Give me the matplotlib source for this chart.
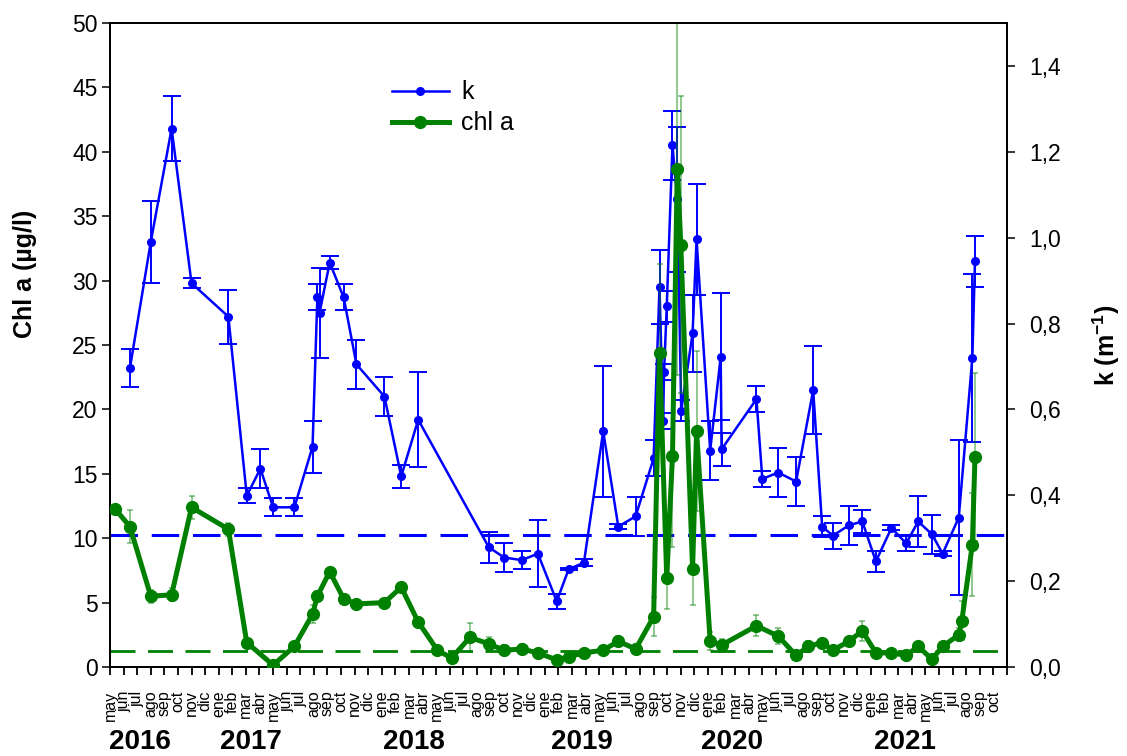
import matplotlib
matplotlib.use("Agg")
import matplotlib.pyplot as plt
from matplotlib.lines import Line2D
from matplotlib.ticker import FuncFormatter
import numpy as np
import pandas as pd

plt.rcParams['font.family'] = ['Liberation Sans', 'DejaVu Sans']
plt.rcParams['mathtext.fontset'] = 'custom'
plt.rcParams['mathtext.rm'] = 'Liberation Sans'
plt.rcParams['mathtext.bf'] = 'Liberation Sans:bold'

# chlorophyll a (ug/l) with standard deviation
chl_dates = [
    "2016-05-12", "2016-06-15", "2016-08-01", "2016-09-17", "2016-11-01",
    "2017-01-23", "2017-03-03", "2017-05-01", "2017-06-18", "2017-07-29",
    "2017-08-09", "2017-09-06", "2017-10-07", "2017-11-05", "2018-01-07",
    "2018-02-13", "2018-03-22", "2018-05-04", "2018-06-05", "2018-07-16",
    "2018-08-28", "2018-10-01", "2018-11-10", "2018-12-16", "2019-01-28",
    "2019-02-22", "2019-03-28", "2019-05-10", "2019-06-13", "2019-07-22",
    "2019-09-01", "2019-09-14", "2019-09-30", "2019-10-13", "2019-10-24",
    "2019-11-01", "2019-11-27", "2019-12-06", "2020-01-06", "2020-02-01",
    "2020-04-18", "2020-06-06", "2020-07-16", "2020-08-13", "2020-09-13",
    "2020-10-07", "2020-11-12", "2020-12-12", "2021-01-12", "2021-02-15",
    "2021-03-19", "2021-04-15", "2021-05-16", "2021-06-09", "2021-07-15",
    "2021-07-22", "2021-08-15", "2021-08-21",
]
chl = [
    12.3, 10.9, 5.5, 5.6, 12.4,
    10.7, 1.9, 0.15, 1.6, 4.1,
    5.5, 7.4, 5.3, 4.9, 5.0,
    6.2, 3.5, 1.3, 0.7, 2.3,
    1.8, 1.3, 1.4, 1.1, 0.55,
    0.8, 1.1, 1.3, 2.0, 1.4,
    3.9, 24.4, 6.9, 16.4, 38.7,
    32.8, 7.6, 18.3, 2.0, 1.7,
    3.2, 2.4, 0.9, 1.6, 1.9,
    1.3, 2.0, 2.8, 1.1, 1.1,
    0.9, 1.6, 0.6, 1.6, 2.5,
    3.6, 9.5, 16.3,
]
chl_sd = [
    0.3, 1.3, 0.5, 0.5, 0.9,
    0.5, 0.2, 0.1, 0.2, 0.7,
    0.4, 0.3, 0.3, 0.2, 0.2,
    0.2, 0.2, 0.2, 0.3, 1.1,
    0.5, 0.4, 0.4, 0.3, 0.2,
    0.3, 0.3, 0.3, 0.4, 0.4,
    1.5, 6.9, 2.4, 7.1, 16.0,
    11.5, 2.8, 6.2, 0.7, 0.5,
    0.8, 0.6, 0.2, 0.4, 0.3,
    0.3, 0.3, 0.8, 0.2, 0.2,
    0.2, 0.3, 0.2, 0.3, 0.5,
    1.5, 4.0, 6.5,
]

# light attenuation coefficient k (1/m) with standard deviation
k_dates = [
    "2016-06-15", "2016-08-01", "2016-09-17", "2016-11-01", "2017-01-23",
    "2017-03-03", "2017-04-03", "2017-05-01", "2017-06-18", "2017-07-29",
    "2017-08-09", "2017-08-14", "2017-09-06", "2017-10-07", "2017-11-05",
    "2018-01-07", "2018-02-13", "2018-03-22", "2018-08-28", "2018-10-01",
    "2018-11-10", "2018-12-16", "2019-01-28", "2019-02-22", "2019-03-28",
    "2019-05-10", "2019-06-13", "2019-07-22", "2019-09-01", "2019-09-14",
    "2019-09-22", "2019-09-24", "2019-09-30", "2019-10-13", "2019-10-24",
    "2019-11-02", "2019-11-27", "2019-12-06", "2020-01-06", "2020-01-30",
    "2020-02-01", "2020-04-18", "2020-05-01", "2020-06-06", "2020-07-16",
    "2020-08-24", "2020-09-13", "2020-10-07", "2020-11-12", "2020-12-12",
    "2021-01-12", "2021-02-15", "2021-03-19", "2021-04-15", "2021-05-16",
    "2021-06-09", "2021-07-15", "2021-08-15", "2021-08-21",
]
k = [
    0.696, 0.990, 1.254, 0.894, 0.816,
    0.399, 0.462, 0.372, 0.372, 0.513,
    0.861, 0.825, 0.942, 0.861, 0.705,
    0.630, 0.444, 0.576, 0.279, 0.255,
    0.249, 0.264, 0.153, 0.228, 0.243,
    0.549, 0.327, 0.351, 0.486, 0.885,
    0.573, 0.687, 0.840, 1.215, 1.089,
    0.597, 0.777, 0.996, 0.504, 0.723,
    0.507, 0.624, 0.438, 0.453, 0.432,
    0.645, 0.327, 0.306, 0.330, 0.339,
    0.246, 0.324, 0.288, 0.339, 0.309,
    0.264, 0.348, 0.720, 0.945,
]
k_sd = [
    0.044, 0.096, 0.075, 0.012, 0.063,
    0.018, 0.045, 0.021, 0.021, 0.060,
    0.030, 0.105, 0.015, 0.030, 0.057,
    0.045, 0.026, 0.111, 0.036, 0.033,
    0.021, 0.078, 0.017, 0.003, 0.008,
    0.153, 0.006, 0.045, 0.042, 0.087,
    0.018, 0.018, 0.036, 0.081, 0.168,
    0.024, 0.090, 0.129, 0.069, 0.147,
    0.039, 0.030, 0.018, 0.057, 0.057,
    0.102, 0.024, 0.030, 0.045, 0.027,
    0.024, 0.006, 0.018, 0.060, 0.045,
    0.006, 0.180, 0.195, 0.060,
]

# reference levels
k_ref = 0.307
chl_ref = 1.28

month_names = ["may", "jun", "jul", "ago", "sep", "oct", "nov", "dic",
               "ene", "feb", "mar", "abr"]
years = ["2016", "2017", "2018", "2019", "2020", "2021"]
year_pos = [2.2, 10.4, 22.4, 34.7, 45.8, 58.5]


def month_pos(dates):
    # months elapsed since 1 May 2016
    d = pd.to_datetime(pd.Series(dates))
    return ((d.dt.year - 2016) * 12 + (d.dt.month - 5)
            + (d.dt.day - 1) / d.dt.days_in_month).to_numpy()


BLUE = "#0000ff"
GREEN = "#008000"

fig = plt.figure(figsize=(11.27, 7.56), dpi=100)
ax = fig.add_axes([0.0976, 0.1177, 0.7959, 0.8519])
ax2 = ax.twinx()
# chl a axis (left) drawn above the k axis (right)
ax.set_zorder(ax2.get_zorder() + 1)
ax.patch.set_visible(False)

xk = month_pos(k_dates)
xc = month_pos(chl_dates)

ax2.axhline(k_ref, color=BLUE, lw=2.2, dashes=(9, 4.5), zorder=1)
ax2.errorbar(xk, k, yerr=k_sd, fmt='none', ecolor=BLUE, elinewidth=1.4,
             capsize=6.5, capthick=1.4, zorder=2)
ax2.plot(xk, k, '-o', color=BLUE, lw=1.8, ms=5.5, zorder=3)

ax.axhline(chl_ref, color=GREEN, lw=2.0, dashes=(9, 4.5), zorder=1)
ax.errorbar(xc, chl, yerr=chl_sd, fmt='none', ecolor=GREEN, elinewidth=1.1,
            capsize=2.2, capthick=1.1, alpha=0.55, zorder=2)
ax.plot(xc, chl, '-o', color=GREEN, lw=3.6, ms=8.5, zorder=3)

ax.set_xlim(0, 66)
ax.set_ylim(0, 50)
ax2.set_ylim(0, 1.5)

ax.set_yticks(np.arange(0, 51, 5))
ax2.set_yticks(np.arange(0, 1.41, 0.2))
ax2.yaxis.set_major_formatter(FuncFormatter(lambda v, p: f"{v:.1f}".replace(".", ",")))

ticks = np.arange(0, 67)
ax.set_xticks(ticks)
ax.set_xticklabels([month_names[i % 12] if i < 66 else "" for i in ticks],
                   rotation=90, fontsize=11.5)
ax.tick_params(axis='x', direction='out', length=6, width=1.3, pad=11)
ax.tick_params(axis='y', direction='out', length=6, width=1.1, labelsize=16.5,
               pad=3)
ax2.tick_params(axis='y', direction='out', length=6, width=1.1, labelsize=16.5,
                pad=10)

for a in (ax, ax2):
    for s in a.spines.values():
        s.set_linewidth(1.3)

ax.set_ylabel("Chl a (µg/l)", fontsize=18, fontweight='bold')
ax.yaxis.set_label_coords(-0.081, 0.61)
ax2.set_ylabel(r"k (m$^{\mathbf{-1}}$)", fontsize=18, fontweight='bold')
ax2.yaxis.set_label_coords(1.093, 0.5)

for yr, xp in zip(years, year_pos):
    ax.text(xp, -0.116, yr, transform=ax.get_xaxis_transform(),
            ha='center', va='center', fontsize=20, fontweight='bold')

handles = [
    Line2D([], [], color=BLUE, lw=1.8, marker='o', ms=5.5),
    Line2D([], [], color=GREEN, lw=3.6, marker='o', ms=8.5),
]
ax.legend(handles, ["k", "chl a"], loc='upper left',
          bbox_to_anchor=(0.314, 0.911), frameon=False, fontsize=18,
          borderpad=0, borderaxespad=0, handlelength=2.3,
          handletextpad=0.48, labelspacing=0.28)

plt.savefig("out.png", dpi=100)
